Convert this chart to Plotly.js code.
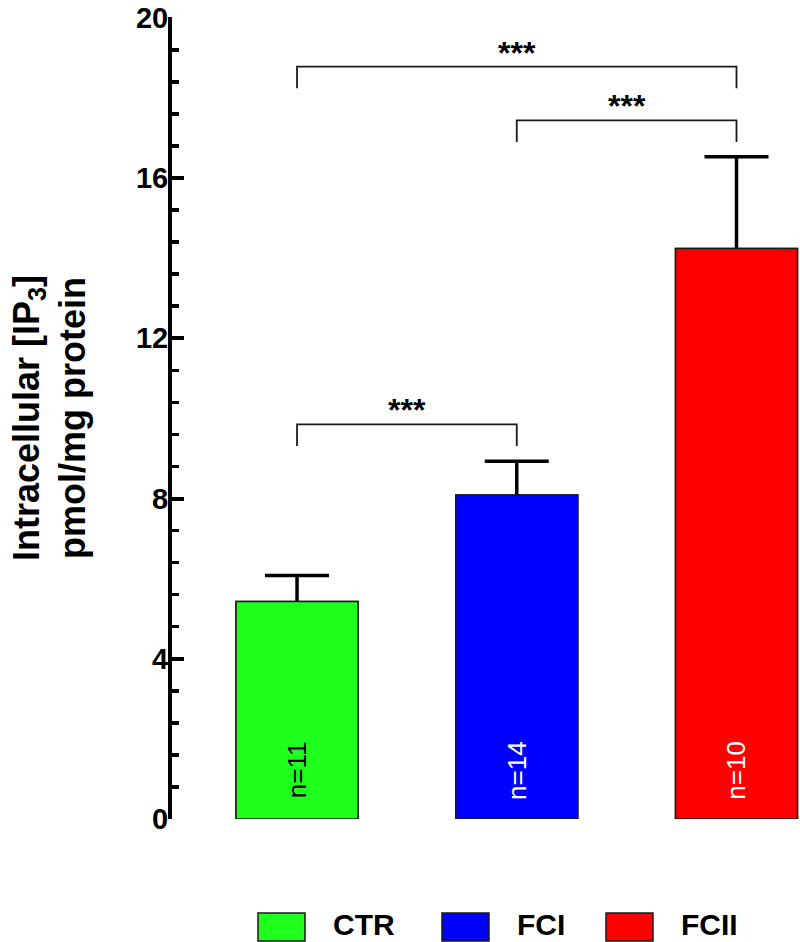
<!DOCTYPE html>
<html><head><meta charset="utf-8">
<script src="https://cdn.plot.ly/plotly-3.0.1.min.js"></script>
<style>html,body{margin:0;padding:0;background:#fff}#chart{width:800px;height:942px}</style>
</head><body><div id="chart"></div>
<script>
// ---- data ----
const groups = ['CTR', 'FCI', 'FCII'];
const means = [5.43, 8.09, 14.24];
const sem = [0.65, 0.84, 2.29];
const nCounts = [11, 14, 10];
const comparisons = [[0, 1], [1, 2], [0, 2]];
const comparisonY = [9.85, 17.44, 18.78];
const comparisonLabels = ['***', '***', '***'];
const yTickVals = [0, 4, 8, 12, 16, 20];

// ---- styles ----
const colors = ['#1eff1e', '#0000ff', '#ff0000'];
const nTextColors = ['#000000', '#ffffff', '#ffffff'];
const FONT = 'Liberation Sans, Arial, sans-serif';
const W = 800, H = 942, ML = 172, MR = 0, MT = 17, MB = 123;
const PW = W - ML - MR, PH = H - MT - MB;
const px2x = px => (px - ML) / PW;
const px2y = py => (H - MB - py) / PH;
const xIdx = groups.map((g, i) => i);

const barBase = {
  type: 'bar', x: xIdx, y: means, width: 0.555,
  marker: {color: colors, line: {color: '#1a1a1a', width: 1.5}},
  showlegend: false, hoverinfo: 'skip'
};
const traces = [
  Object.assign({}, barBase, {
    name: 'error',
    error_y: {type: 'data', symmetric: false, array: sem,
      arrayminus: means.map(m => m / 2), color: '#000', thickness: 3.5, width: 32}
  }),
  Object.assign({}, barBase, {name: 'bars'})
];

const shapes = [];
const annotations = [];
const leg = 0.54;
comparisons.forEach((c, k) => {
  const y = comparisonY[k];
  shapes.push({type: 'path', xref: 'x', yref: 'y',
    path: `M ${c[0]},${y - leg} L ${c[0]},${y} L ${c[1]},${y} L ${c[1]},${y - leg}`,
    line: {color: '#1a1a1a', width: 1.8}});
  annotations.push({x: (c[0] + c[1]) / 2, y: y - 0.15, xref: 'x', yref: 'y',
    text: '<b>' + comparisonLabels[k] + '</b>', showarrow: false, yanchor: 'bottom',
    font: {family: FONT, size: 32, color: '#000'}});
});
xIdx.forEach(i => {
  annotations.push({x: i, y: 1.22, xref: 'x', yref: 'y', text: 'n=' + nCounts[i],
    textangle: -90, showarrow: false, font: {family: FONT, size: 26, color: nTextColors[i]}});
});
// custom legend
const legBoxLeft = [258, 442, 606];
groups.forEach((g, i) => {
  shapes.push({type: 'rect', xref: 'paper', yref: 'paper',
    x0: px2x(legBoxLeft[i]), x1: px2x(legBoxLeft[i] + 47),
    y0: px2y(941), y1: px2y(913),
    fillcolor: colors[i], line: {color: '#1a1a1a', width: 1.5}});
  annotations.push({xref: 'paper', yref: 'paper', x: px2x(legBoxLeft[i] + 74), y: px2y(942),
    xanchor: 'left', yanchor: 'bottom', text: '<b>' + g + '</b>', showarrow: false,
    borderpad: 0, font: {family: FONT, size: 30, color: '#000'}});
});

const layout = {
  width: W, height: H,
  margin: {l: ML, r: MR, t: MT, b: MB, pad: 0},
  paper_bgcolor: '#fff', plot_bgcolor: '#fff',
  barmode: 'overlay',
  font: {family: FONT, color: '#000'},
  xaxis: {range: [-0.569, 2.289], visible: false, fixedrange: true},
  yaxis: {
    range: [0, 20.02], tickmode: 'array', tickvals: yTickVals,
    ticktext: yTickVals.map(v => '<b>' + v + '</b>'),
    ticks: 'inside', ticklen: 12, tickwidth: 4,
    tickcolor: '#000', showline: true, linewidth: 4, linecolor: '#000',
    showgrid: false, zeroline: false,
    tickfont: {family: FONT, size: 29, color: '#000'},
    ticklabelstandoff: -6, ticklabeloverflow: 'allow',
    minor: {dtick: 0.8, ticks: 'inside', ticklen: 7, tickwidth: 3.5, tickcolor: '#000', showgrid: false},
    title: {text: '<b>Intracellular [IP<sub>3</sub>]<br>pmol/mg protein</b>',
      font: {family: FONT, size: 36, color: '#000'}, standoff: 40}
  },
  shapes: shapes, annotations: annotations
};
Plotly.newPlot('chart', traces, layout, {displayModeBar: false, staticPlot: true});
</script></body></html>
